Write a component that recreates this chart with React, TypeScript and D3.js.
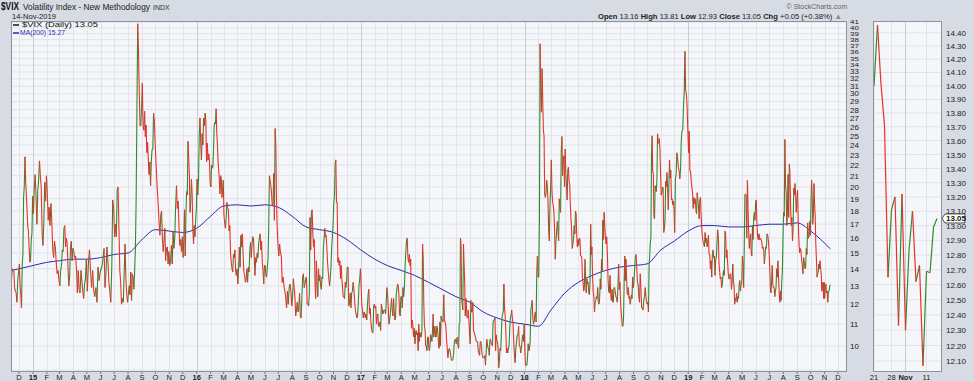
import React from "react";
import * as d3 from "d3";

const W = 974;
const H = 381;

// Month keys for the daily closes (values spread through each month)
const monthKeys = [
  "2014-11","2014-12",
  "2015-01","2015-02","2015-03","2015-04","2015-05","2015-06","2015-07","2015-08","2015-09","2015-10","2015-11","2015-12",
  "2016-01","2016-02","2016-03","2016-04","2016-05","2016-06","2016-07","2016-08","2016-09","2016-10","2016-11","2016-12",
  "2017-01","2017-02","2017-03","2017-04","2017-05","2017-06","2017-07","2017-08","2017-09","2017-10","2017-11","2017-12",
  "2018-01","2018-02","2018-03","2018-04","2018-05","2018-06","2018-07","2018-08","2018-09","2018-10","2018-11","2018-12",
  "2019-01","2019-02","2019-03","2019-04","2019-05","2019-06","2019-07","2019-08","2019-09","2019-10","2019-11",
];

const vixCloses: number[][] = [
  [13.3, 14.0, 13.9, 13.9, 12.9, 12.7, 12.6, 12.1, 13.3],
  [14.3, 12.9, 12.5, 11.8, 14.2, 14.9, 19.1, 20.1, 22.8, 20.4, 19.4, 18.0, 16.8, 16.5, 15.3, 14.4, 14.5, 15.9, 16.3, 19.2],
  [17.8, 19.9, 21.1, 19.3, 17.0, 19.6, 20.6, 22.4, 21.0, 19.9, 16.4, 15.5, 17.2, 20.4, 18.8, 21.0],
  [19.4, 17.3, 18.3, 16.9, 18.6, 17.2, 15.3, 14.7, 15.8, 15.3, 14.3, 13.7, 13.9, 13.3],
  [13.0, 13.9, 14.2, 15.2, 15.1, 16.7, 16.9, 15.4, 16.0, 15.6, 14.0, 13.0, 13.6, 15.4, 15.8, 14.5, 15.3],
  [15.1, 14.7, 14.8, 14.0, 12.6, 13.9, 12.8, 12.6, 13.9, 13.3, 12.7, 12.3, 13.1, 13.4, 14.6],
  [12.7, 14.3, 15.2, 13.8, 12.9, 13.9, 12.7, 12.4, 12.9, 12.1, 14.1, 13.3, 13.8],
  [14.0, 14.2, 14.7, 15.3, 12.9, 13.8, 15.4, 14.5, 13.2, 12.7, 12.1, 14.0, 18.9, 18.2],
  [16.1, 17.0, 16.1, 19.7, 20.0, 16.8, 13.9, 13.2, 12.0, 12.3, 12.1, 13.7, 15.6, 13.4, 12.5, 12.1],
  [12.6, 13.0, 12.5, 13.8, 12.2, 13.7, 13.5, 12.8, 13.8, 15.3, 19.1, 28.0, 40.7, 36.0, 30.3, 26.1, 26.1, 28.4],
  [31.4, 26.1, 25.6, 27.8, 24.9, 26.2, 23.2, 24.3, 22.5, 21.1, 22.3, 20.1, 22.4, 23.5, 23.6, 27.6, 26.8, 24.5],
  [22.6, 20.9, 19.5, 18.4, 17.1, 16.2, 17.7, 18.0, 16.1, 15.1, 15.8, 16.7, 14.5, 15.3, 15.4, 14.3, 15.1],
  [14.2, 14.5, 15.5, 14.3, 16.5, 15.3, 16.1, 18.4, 20.1, 18.2, 18.8, 16.9, 15.5, 15.9, 15.1, 16.1],
  [14.7, 15.9, 18.1, 14.8, 17.6, 19.6, 19.3, 24.4, 22.7, 21.0, 17.9, 18.9, 20.7, 19.3, 16.6, 15.6, 16.9, 16.1, 17.3, 18.2],
  [20.7, 19.3, 20.6, 25.0, 27.0, 24.3, 22.5, 25.2, 24.0, 27.0, 26.1, 27.6, 26.7, 22.3, 24.2, 22.5, 23.1, 22.4, 20.2],
  [20.0, 22.0, 21.7, 21.8, 23.4, 26.0, 26.5, 26.3, 28.1, 25.4, 24.1, 22.3, 21.6, 20.5, 19.4, 21.0, 20.7, 19.1, 19.8, 20.6],
  [17.7, 17.1, 16.7, 17.4, 18.7, 18.3, 18.1, 16.5, 16.9, 15.0, 14.4, 14.0, 13.8, 14.9, 14.7, 15.2, 13.8, 13.6, 14.0],
  [13.1, 14.1, 15.4, 14.1, 16.2, 15.4, 16.3, 14.9, 13.8, 13.6, 13.2, 13.3, 14.0, 13.2, 14.1, 13.8, 15.2, 15.7],
  [14.7, 15.6, 16.1, 15.9, 14.7, 13.6, 14.7, 14.4, 15.0, 14.7, 15.6, 16.0, 16.3, 15.2, 15.8, 14.4, 13.9, 13.1, 14.2],
  [14.2, 13.6, 13.5, 14.1, 14.6, 17.0, 21.0, 20.5, 20.1, 19.4, 18.4, 18.5, 21.2, 17.3, 25.8, 23.9, 18.8, 16.6, 15.6],
  [14.8, 15.6, 15.0, 14.8, 13.2, 13.5, 13.0, 12.7, 12.4, 11.8, 12.7, 12.0, 12.9, 13.1, 12.7, 11.9],
  [12.4, 13.4, 12.9, 12.4, 11.4, 11.7, 12.1, 11.6, 11.8, 12.6, 11.4, 11.3, 12.3, 13.5, 13.7, 12.9, 13.1, 13.4],
  [13.5, 12.0, 12.0, 11.9, 12.5, 17.5, 15.2, 17.9, 18.1, 16.3, 15.4, 15.9, 13.3, 12.3, 14.5, 13.1, 12.4, 14.0, 13.3],
  [13.6, 13.0, 12.8, 13.5, 13.4, 15.4, 15.9, 16.7, 16.1, 16.2, 15.3, 14.4, 13.8, 13.3, 13.0, 13.5, 14.2, 15.4, 16.2, 17.1],
  [18.6, 19.3, 22.1, 22.5, 18.7, 18.7, 14.4, 14.7, 14.2, 14.5, 13.4, 14.2, 13.4, 12.9, 12.4, 12.4, 12.3, 13.2, 12.9, 13.3],
  [14.1, 14.1, 11.9, 12.1, 12.6, 11.8, 12.6, 12.7, 13.2, 12.8, 12.2, 11.7, 11.5, 11.3, 11.4, 12.0, 13.0, 13.4, 14.0],
  [12.9, 11.9, 11.7, 11.3, 11.6, 11.5, 11.3, 11.5, 11.2, 11.9, 12.5, 12.8, 11.5, 11.8, 11.1, 10.8, 10.6, 10.6, 11.9, 12.0],
  [11.8, 11.9, 11.0, 11.4, 11.5, 10.9, 10.9, 11.1, 10.7, 12.0, 11.8, 11.5, 11.6, 11.7, 11.7, 11.5, 12.1, 12.9],
  [12.5, 11.8, 11.0, 11.2, 11.5, 11.9, 12.3, 11.7, 11.4, 12.3, 11.6, 11.2, 11.3, 12.5, 12.8, 13.1, 13.0, 12.5, 11.5, 11.4, 12.4],
  [12.4, 11.8, 12.9, 12.4, 12.9, 14.1, 15.1, 15.8, 16.0, 14.7, 14.4, 14.9, 14.2, 14.6, 10.8, 11.2, 10.9, 10.4, 10.8],
  [10.1, 10.6, 10.7, 10.5, 10.6, 9.8, 11.0, 10.2, 10.6, 10.4, 10.4, 10.7, 15.6, 14.7, 12.0, 10.9, 10.7, 10.0, 10.0, 9.8, 10.4, 10.4],
  [9.9, 9.8, 10.1, 10.5, 10.4, 10.2, 10.7, 11.5, 10.4, 10.6, 10.9, 10.4, 10.4, 10.9, 10.8, 10.5, 10.0, 9.9, 11.1, 10.0, 11.4, 11.2],
  [11.2, 11.1, 12.5, 11.2, 11.1, 10.9, 10.3, 9.9, 9.5, 9.8, 9.9, 9.8, 9.6, 9.4, 9.4, 9.4, 9.6, 10.1, 10.3, 10.3],
  [10.1, 10.3, 10.4, 10.0, 9.9, 11.0, 11.1, 16.0, 15.5, 12.3, 12.0, 11.7, 15.6, 14.3, 13.2, 11.4, 12.3, 11.8, 11.3, 11.3, 11.7, 11.2, 10.6],
  [10.1, 12.2, 11.6, 11.6, 12.1, 10.7, 10.6, 10.5, 10.4, 10.2, 10.2, 10.2, 9.8, 9.7, 9.6, 10.2, 10.2, 9.9, 9.6, 9.5],
  [9.5, 9.5, 9.6, 9.2, 9.7, 10.3, 10.1, 9.9, 9.9, 9.6, 10.3, 10.3, 10.1, 10.1, 10.0, 11.1, 11.2, 11.2, 11.3, 9.8, 10.5, 10.2],
  [10.2, 9.9, 9.1, 9.4, 9.9, 9.8, 10.5, 11.3, 11.5, 11.6, 13.1, 11.8, 11.4, 10.7, 9.7, 9.9, 9.7, 9.9, 10.0, 10.7, 11.3],
  [11.4, 11.7, 11.3, 11.0, 10.2, 9.6, 9.3, 9.9, 10.2, 10.5, 10.5, 10.9, 10.0, 10.0, 9.7, 9.9, 10.3, 10.5, 10.2, 11.0],
  [9.8, 9.2, 9.2, 9.2, 9.5, 10.1, 9.8, 9.9, 10.2, 11.7, 11.9, 12.2, 11.3, 11.0, 11.1, 11.5, 11.6, 11.1, 13.8, 14.8, 13.5],
  [13.5, 17.3, 37.3, 30.0, 27.7, 33.5, 29.1, 25.6, 25.0, 19.3, 19.1, 19.5, 20.6, 20.0, 18.7, 16.5, 15.8, 18.6, 19.9],
  [22.5, 19.6, 18.7, 18.4, 17.8, 16.5, 14.6, 15.8, 16.4, 17.2, 16.6, 15.8, 19.0, 18.2, 17.9, 23.3, 24.9, 21.0, 22.5, 22.9, 20.0],
  [23.6, 21.1, 20.1, 18.9, 21.5, 21.8, 20.5, 20.2, 18.5, 17.4, 16.6, 15.3, 15.6, 16.0, 16.9, 16.3, 18.0, 17.8, 16.2, 15.4, 15.9],
  [15.5, 16.0, 15.9, 14.8, 14.8, 14.7, 13.4, 13.2, 12.7, 12.9, 14.6, 13.4, 12.6, 13.4, 13.1, 13.2, 12.6, 12.5, 13.2, 17.0, 14.9, 15.4],
  [13.5, 12.7, 12.4, 11.6, 12.1, 12.2, 12.4, 12.3, 12.9, 12.1, 12.0, 12.3, 13.4, 12.8, 14.6, 13.8, 17.3, 15.9, 17.9, 16.9, 16.1],
  [15.6, 16.1, 15.0, 13.4, 12.7, 12.6, 13.6, 12.6, 12.2, 12.8, 12.1, 12.1, 12.9, 12.9, 12.6, 12.4, 12.3, 12.1, 13.0, 14.3, 12.8],
  [13.2, 12.2, 11.6, 11.3, 10.9, 10.9, 11.3, 13.2, 14.8, 13.3, 14.6, 13.5, 12.6, 12.5, 12.9, 12.3, 12.4, 12.0, 12.2, 12.5, 12.3, 13.5, 12.9],
  [13.2, 13.9, 14.7, 14.9, 14.2, 13.2, 13.1, 12.4, 12.1, 13.7, 12.8, 11.8, 11.8, 11.7, 12.2, 12.4, 12.9, 12.4, 12.1],
  [12.0, 12.1, 11.6, 14.2, 14.8, 15.7, 16.0, 23.0, 25.0, 21.3, 21.3, 17.6, 17.4, 20.1, 19.9, 19.6, 20.7, 25.2, 24.2, 24.2, 24.7, 23.4, 21.2],
  [19.3, 19.5, 20.0, 19.9, 16.4, 16.7, 17.4, 20.5, 20.0, 21.3, 20.0, 18.1, 20.1, 22.5, 20.8, 21.5, 18.9, 19.0, 18.5, 18.8, 18.1],
  [16.4, 20.7, 21.2, 23.2, 22.6, 21.8, 21.5, 20.7, 21.6, 24.5, 25.6, 25.6, 28.4, 30.1, 36.1, 30.4, 30.0, 28.3, 25.4],
  [23.2, 25.5, 21.4, 21.4, 20.5, 20.0, 19.5, 18.2, 19.1, 18.6, 19.0, 18.1, 17.8, 19.5, 18.9, 18.3, 17.4, 18.9, 19.1, 17.7, 16.6],
  [16.1, 15.7, 15.6, 15.4, 16.4, 15.7, 16.0, 15.4, 15.7, 16.2, 14.9, 14.9, 14.0, 14.5, 13.5, 14.9, 15.2, 14.7, 14.8],
  [13.6, 14.6, 14.7, 15.7, 16.6, 16.1, 14.3, 13.8, 13.4, 13.5, 12.9, 13.1, 13.6, 13.9, 13.6, 16.5, 16.3, 14.7, 15.2, 14.4, 13.7],
  [13.4, 13.4, 13.7, 13.6, 12.8, 13.2, 14.3, 13.3, 13.0, 12.0, 12.3, 12.2, 12.6, 12.1, 12.4, 12.3, 13.1, 13.3, 12.7, 13.1, 13.1],
  [14.8, 14.4, 12.9, 15.4, 19.3, 19.4, 19.1, 16.0, 20.6, 18.1, 16.4, 15.3, 16.0, 16.3, 15.0, 14.8, 16.9, 15.9, 17.5, 17.9, 17.3, 18.7],
  [18.9, 17.0, 16.1, 15.9, 16.3, 15.9, 16.0, 15.9, 15.8, 15.3, 15.4, 15.2, 14.3, 14.8, 15.4, 15.3, 16.3, 16.2, 15.8, 15.1],
  [14.1, 12.9, 12.6, 13.3, 14.2, 13.0, 12.9, 12.9, 12.4, 12.7, 12.9, 14.0, 13.5, 14.5, 13.5, 12.6, 12.1, 12.7, 12.2, 13.2, 13.9, 16.1],
  [17.9, 17.6, 24.6, 20.2, 19.5, 16.9, 18.0, 21.1, 17.5, 22.1, 21.2, 18.5, 16.9, 17.5, 15.8, 16.7, 19.9, 19.3, 20.3, 19.4, 17.9, 19.0],
  [19.7, 17.3, 15.8, 15.0, 15.3, 15.2, 14.6, 14.2, 13.7, 14.7, 14.4, 14.0, 14.1, 15.3, 14.9, 17.1, 16.0, 16.1, 17.2, 16.2],
  [18.6, 20.6, 19.1, 17.0, 17.9, 20.3, 18.6, 17.6, 15.6, 14.6, 13.5, 13.7, 13.8, 14.3, 14.0, 14.5, 14.0, 13.7, 12.7, 13.1, 13.2, 12.3, 13.2],
  [12.3, 12.8, 13.1, 12.6, 12.7, 12.1, 12.7, 12.7, 13.0, 13.05],
];

// MA(200) at each month start
const maDates = [
  "2014-11-14","2014-12-01",
  "2015-01-01","2015-02-01","2015-03-01","2015-04-01","2015-05-01","2015-06-01","2015-07-01","2015-08-01","2015-09-01","2015-10-01","2015-11-01","2015-12-01",
  "2016-01-01","2016-02-01","2016-03-01","2016-04-01","2016-05-01","2016-06-01","2016-07-01","2016-08-01","2016-09-01","2016-10-01","2016-11-01","2016-12-01",
  "2017-01-01","2017-02-01","2017-03-01","2017-04-01","2017-05-01","2017-06-01","2017-07-01","2017-08-01","2017-09-01","2017-10-01","2017-11-01","2017-12-01",
  "2018-01-01","2018-02-01","2018-03-01","2018-04-01","2018-05-01","2018-06-01","2018-07-01","2018-08-01","2018-09-01","2018-10-01","2018-11-01","2018-12-01",
  "2019-01-01","2019-02-01","2019-03-01","2019-04-01","2019-05-01","2019-06-01","2019-07-01","2019-08-01","2019-09-01","2019-10-01","2019-11-14",
];
const maValues = [
  13.9, 14.0,
  14.2, 14.4, 14.5, 14.6, 14.6, 14.7, 14.9, 15.0, 15.9, 16.6, 16.5, 16.4,
  16.7, 17.6, 18.4, 18.5, 18.4, 18.5, 18.3, 17.6, 16.8, 16.6, 16.4, 15.9,
  15.2, 14.6, 14.2, 13.9, 13.6, 13.2, 12.8, 12.4, 12.1, 11.6, 11.3, 11.1,
  11.0, 10.9, 11.7, 12.6, 13.2, 13.6, 13.9, 14.1, 14.2, 14.3, 15.2, 15.8,
  16.5, 16.9, 16.9, 16.8, 16.8, 16.9, 17.0, 17.0, 17.1, 16.5, 15.27,
];

// Right panel: last trading days
const recentDays = [
  "2019-10-21","2019-10-22","2019-10-23","2019-10-24","2019-10-25","2019-10-28","2019-10-29","2019-10-30","2019-10-31",
  "2019-11-01","2019-11-04","2019-11-05","2019-11-06","2019-11-07","2019-11-08","2019-11-11","2019-11-12","2019-11-13","2019-11-14",
];
const recentCloses = [14.0, 14.46, 14.01, 13.71, 12.65, 13.11, 13.2, 12.33, 13.22, 12.3, 12.83, 13.1, 12.62, 12.73, 12.07, 12.69, 12.68, 12.99, 13.05];
const recentLabelDays = ["2019-10-21", "2019-10-28", "2019-11-01", "2019-11-11"];
const recentLabelTexts = ["21", "28", "Nov", "11"];

const mainTicks = [10,11,12,13,14,15,16,17,18,19,20,21,22,23,24,25,26,27,28,29,30,31,32,33,34,35,36,37,38,39,40,41];
const rightTicks = [12.1,12.2,12.3,12.4,12.5,12.6,12.7,12.8,12.9,13.0,13.1,13.2,13.3,13.4,13.5,13.6,13.7,13.8,13.9,14.0,14.1,14.2,14.3,14.4];
const monthLetters = ["J","F","M","A","M","J","J","A","S","O","N","D"];

const GREEN = "#2e8b2e";
const RED = "#e8312a";
const MA_COLOR = "#2a2aa8";
const FONT = "'Liberation Sans', Arial, sans-serif";

const parse = d3.timeParse("%Y-%m-%d");

function buildSeries() {
  const pts: { date: Date; v: number }[] = [];
  monthKeys.forEach((key, k) => {
    const vals = vixCloses[k];
    const [y, m] = key.split("-").map(Number);
    const n = vals.length;
    if (k === 0) {
      const s = new Date(2014, 10, 14).getTime();
      const e = new Date(2014, 10, 28).getTime();
      vals.forEach((v, i) => pts.push({ date: new Date(s + (i / (n - 1)) * (e - s)), v }));
    } else if (k === monthKeys.length - 1) {
      const s = new Date(2019, 10, 1).getTime();
      const e = new Date(2019, 10, 14).getTime();
      vals.forEach((v, i) => pts.push({ date: new Date(s + (i / (n - 1)) * (e - s)), v }));
    } else {
      const s = new Date(y, m - 1, 1).getTime();
      const e = new Date(y, m, 1).getTime();
      vals.forEach((v, i) => pts.push({ date: new Date(s + ((i + 0.5) / n) * (e - s)), v }));
    }
  });
  return pts;
}

function segPaths(xs: number[], ys: number[], vals: number[]) {
  let up = "";
  let dn = "";
  for (let i = 1; i < vals.length; i++) {
    const seg = `M${xs[i - 1].toFixed(2)},${ys[i - 1].toFixed(2)}L${xs[i].toFixed(2)},${ys[i].toFixed(2)}`;
    if (vals[i] >= vals[i - 1]) up += seg;
    else dn += seg;
  }
  return { up, dn };
}

export default function App() {
  const L = 11, R = 847, T = 21, B = 372;
  const RL = 873, RR = 942;

  const x = d3.scaleTime().domain([new Date(2014, 10, 13), new Date(2019, 11, 21)]).range([L, R]);
  const y = d3.scaleLog().domain([8.93, 41.2]).range([B, T]);

  const xr = d3.scaleLinear().domain([0, recentDays.length - 1]).range([874, 937]);
  const yr = d3.scaleLog().domain([12.03, 14.49]).range([B, T]);

  const series = buildSeries();
  const main = segPaths(series.map((p) => x(p.date)), series.map((p) => y(p.v)), series.map((p) => p.v));

  const maLine = d3
    .line<number>()
    .x((_, i) => x(parse(maDates[i])!))
    .y((d) => y(d))
    .curve(d3.curveMonotoneX)(maValues);

  const recent = segPaths(recentCloses.map((_, i) => xr(i)), recentCloses.map((v) => yr(v)), recentCloses);

  const monthStarts = d3.timeMonth.range(new Date(2014, 11, 1), new Date(2019, 11, 2));

  const lastVal = recentCloses[recentCloses.length - 1];
  const by = yr(lastVal);

  return (
    <svg width={W} height={H} style={{ position: "absolute", left: 0, top: 0, display: "block" }} fontFamily={FONT}>
      <rect x={0} y={0} width={W} height={H} fill="#d6dbe4" />
      {/* header */}
      <text x={1} y={10} fontSize={11} fontWeight="bold" fill="#111" textLength={18} lengthAdjust="spacingAndGlyphs">$VIX</text>
      <text x={23} y={9.5} fontSize={8.3} fill="#222" textLength={127} lengthAdjust="spacingAndGlyphs">Volatility Index - New Methodology</text>
      <text x={153} y={9.5} fontSize={7} fill="#333">INDX</text>
      <text x={12} y={19} fontSize={7.6} fill="#222">14-Nov-2019</text>
      <text x={847} y={9} fontSize={7} fill="#666" textAnchor="end">© StockCharts.com</text>
      <text x={842} y={18.5} fontSize={7.6} fill="#222" textAnchor="end">
        <tspan fontWeight="bold">Open</tspan> 13.16 <tspan fontWeight="bold">High</tspan> 13.81{" "}
        <tspan fontWeight="bold">Low</tspan> 12.93 <tspan fontWeight="bold">Close</tspan> 13.05{" "}
        <tspan fontWeight="bold">Chg</tspan> +0.05 (+0.38%) <tspan fill="#888">▲</tspan>
      </text>

      {/* main panel */}
      <rect x={L} y={T} width={R - L} height={B - T} fill="#f5f6fa" />
      {mainTicks.map((t) => (
        <line key={"h" + t} x1={L} x2={R} y1={y(t)} y2={y(t)} stroke="#e1e3e9" strokeWidth={1} />
      ))}
      <line x1={L} x2={R} y1={y(9)} y2={y(9)} stroke="#e1e3e9" />
      {monthStarts.map((d, i) => (
        <line
          key={"v" + i}
          x1={Math.round(x(d)) + 0.5}
          x2={Math.round(x(d)) + 0.5}
          y1={T}
          y2={B}
          stroke={d.getMonth() === 0 ? "#c9ccd3" : "#e1e3e9"}
          strokeWidth={1}
        />
      ))}
      <path d={maLine || ""} fill="none" stroke={MA_COLOR} strokeWidth={1} />
      <path d={main.up} fill="none" stroke={GREEN} strokeWidth={1.1} />
      <path d={main.dn} fill="none" stroke={RED} strokeWidth={1.1} />
      <rect x={L + 0.5} y={T + 0.5} width={R - L - 1} height={B - T - 1} fill="none" stroke="#8d929c" />

      {/* legend */}
      <line x1={13} x2={19} y1={25} y2={25} stroke="#111" strokeWidth={1.5} />
      <text x={22} y={27.2} fontSize={7} fill="#111" textLength={76} lengthAdjust="spacingAndGlyphs">$VIX (Daily) 13.05</text>
      <line x1={13} x2={19} y1={33} y2={33} stroke={MA_COLOR} strokeWidth={1.5} />
      <text x={20} y={35.4} fontSize={7} fill={MA_COLOR} textLength={45} lengthAdjust="spacingAndGlyphs">MA(200) 15.27</text>

      {/* main y axis: labels squeeze vertically where ticks crowd together */}
      {mainTicks.map((t, i) => {
        const gap = i < mainTicks.length - 1 ? y(t) - y(mainTicks[i + 1]) : y(mainTicks[i - 1]) - y(t);
        const k = Math.min(1, (gap - 0.3) / 8.2);
        const yy = y(t);
        return (
          <text
            key={"yl" + t}
            x={850}
            y={0}
            fontSize={8}
            fill="#222"
            transform={`translate(0,${yy + 3 * k}) scale(1,${k})`}
          >
            {t}
          </text>
        );
      })}

      {/* main x axis */}
      {monthStarts.map((d, i) => {
        const jan = d.getMonth() === 0;
        return (
          <g key={"xl" + i}>
            <line x1={x(d)} x2={x(d)} y1={B} y2={B + 2} stroke="#777" />
            <text x={x(d)} y={B + 7.5} fontSize={7.5} textAnchor="middle" fontWeight={jan ? "bold" : "normal"} fill="#222">
              {jan ? d3.timeFormat("%y")(d) : monthLetters[d.getMonth()]}
            </text>
          </g>
        );
      })}

      {/* right panel */}
      <rect x={RL} y={T} width={RR - RL} height={B - T} fill="#f5f6fa" />
      {rightTicks.map((t) => (
        <line key={"rh" + t} x1={RL} x2={RR} y1={yr(t)} y2={yr(t)} stroke="#e1e3e9" />
      ))}
      {recentLabelDays.map((dstr, j) => {
        const i = recentDays.indexOf(dstr);
        return (
          <line key={"rv" + j} x1={xr(i)} x2={xr(i)} y1={T} y2={B} stroke={j === 2 ? "#c9ccd3" : "#e1e3e9"} />
        );
      })}
      <path d={recent.up} fill="none" stroke={GREEN} strokeWidth={1.2} />
      <path d={recent.dn} fill="none" stroke={RED} strokeWidth={1.2} />
      <rect x={RL + 0.5} y={T + 0.5} width={RR - RL - 1} height={B - T - 1} fill="none" stroke="#8d929c" />
      {rightTicks.map((t) => (
        <text key={"rl" + t} x={946} y={yr(t) + 3} fontSize={8} fill="#222">{t.toFixed(2)}</text>
      ))}
      {recentLabelDays.map((dstr, j) => {
        const i = recentDays.indexOf(dstr);
        return (
          <text key={"rx" + j} x={xr(i)} y={B + 7.5} fontSize={7.5} textAnchor="middle" fontWeight={j === 2 ? "bold" : "normal"} fill="#222">
            {recentLabelTexts[j]}
          </text>
        );
      })}
      <path
        d={`M942,${by} L945,${by - 4.5} L965,${by - 4.5} L965,${by + 4.5} L945,${by + 4.5} Z`}
        fill="#fff"
        stroke="#222"
        strokeWidth={0.8}
      />
      <text x={946} y={by + 3} fontSize={8} fontWeight="bold" fill="#111">{lastVal.toFixed(2)}</text>
    </svg>
  );
}
